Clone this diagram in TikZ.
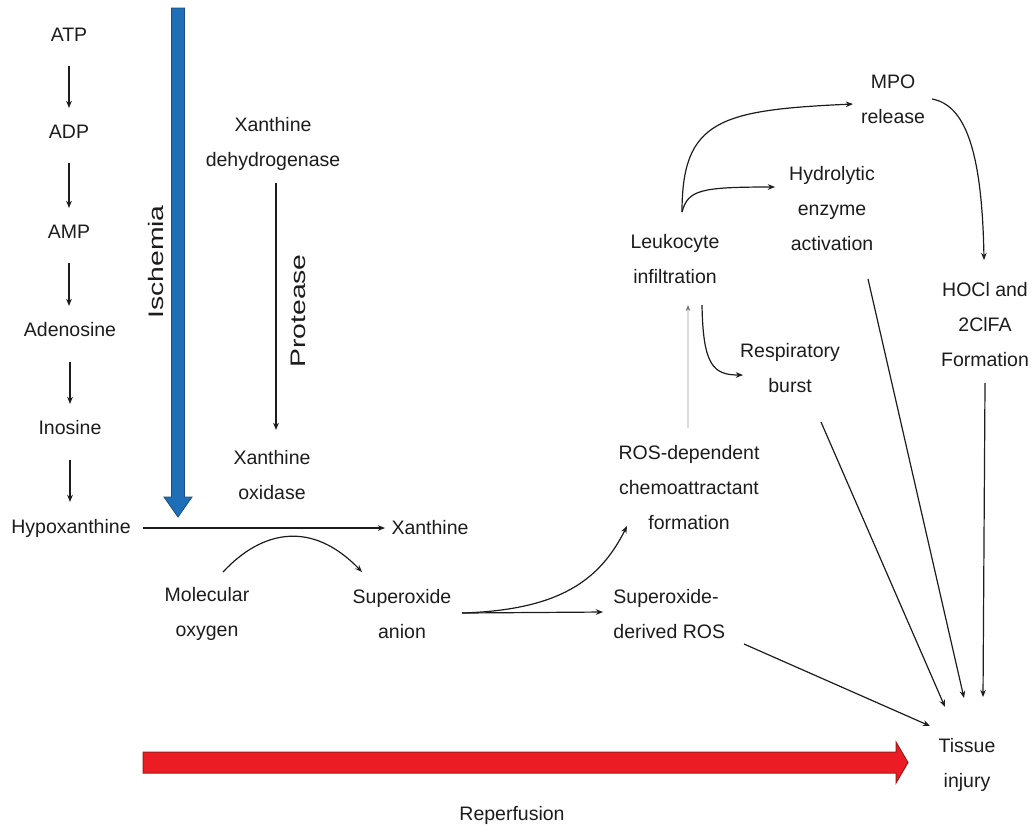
\documentclass[tikz,border=0pt]{standalone}
\usepackage{fontspec}
\setmainfont{Liberation Sans}
\usetikzlibrary{arrows.meta,calc}
\definecolor{inkc}{HTML}{1C1C1C}
\definecolor{ischfill}{HTML}{1E6FB8}
\definecolor{ischedge}{HTML}{1A4C80}
\definecolor{repfill}{HTML}{EC1C24}
\definecolor{repedge}{HTML}{A01818}
\begin{document}
\begin{tikzpicture}[x=0.5pt,y=-0.5pt,
  lbl/.style={inner sep=0pt, align=center, text=inkc,
    font=\fontsize{9.75}{17.5}\selectfont},
  sidelbl/.style={inner sep=0pt, rotate=90, text=inkc,
    font=\fontsize{10.5}{12}\selectfont},
  arr/.style={draw=inkc, line width=0.6pt,
    -{Stealth[length=3.6pt,width=2.8pt]}},
  faint/.style={draw=black!14, line width=0.6pt,
    -{Stealth[length=3pt,width=2.4pt,color=black!55]}},
]
\useasboundingbox (0,0) rectangle (1032,832);

% ischemia and reperfusion bands
\filldraw[fill=ischfill, draw=ischedge, line width=0.4pt]
  (171.5,8) -- (184.5,8) -- (184.5,497) -- (192,497) -- (178,517)
  -- (164,497) -- (171.5,497) -- cycle;
\filldraw[fill=repfill, draw=repedge, line width=0.5pt]
  (143,752) -- (896,752) -- (896,742) -- (908,762.5) -- (896,783)
  -- (896,773) -- (143,773) -- cycle;
\node[sidelbl] (isch) at (156,262) {\scalebox{1.35}[1]{Ischemia}};
\node[lbl] (reperf) at (512,815) {Reperfusion};

% purine breakdown
\node[lbl] (atp)   at (69,35)  {ATP};
\node[lbl] (adp)   at (69,132) {ADP};
\node[lbl] (amp)   at (69,232) {AMP};
\node[lbl] (adeno) at (70,330) {Adenosine};
\node[lbl] (ino)   at (70,428) {Inosine};
\node[lbl] (hypo)  at (71,528) {Hypoxanthine};
\node[lbl] (xan)   at (430,528) {Xanthine};

% enzymes and substrates
\node[lbl] (xdh) at (273,144) {Xanthine\\dehydrogenase};
\node[lbl] (xo)  at (272,475) {Xanthine\\oxidase};
\node[sidelbl] (prot) at (298,311) {\scalebox{1.35}[1]{Protease}};
\node[lbl] (mol)   at (207,614) {Molecular\\oxygen};
\node[lbl] (supan) at (402,614) {Superoxide\\anion};

% downstream events
\node[lbl, anchor=west, align=left] (supros) at (613,614) {Superoxide-\\derived ROS};
\node[lbl] (rosdep) at (689,488) {ROS-dependent\\chemoattractant\\formation};
\node[lbl] (leuk)   at (675,259) {Leukocyte\\infiltration};
\node[lbl] (hydro)  at (832,209) {Hydrolytic\\enzyme\\activation};
\node[lbl] (mpo)    at (893,99)  {MPO\\release};
\node[lbl] (resp)   at (790,368) {Respiratory\\burst};
\node[lbl] (hocl)   at (985,325) {HOCl and\\2ClFA\\Formation};
\node[lbl] (tissue) at (967,765) {Tissue\\injury};

% left column
\foreach \a/\b in {atp/adp, adp/amp, amp/adeno, adeno/ino}
  \draw[arr, shorten <=12pt, shorten >=12pt] (\a) -- (\a |- \b);
\draw[arr, shorten <=12pt, shorten >=13pt] (ino) -- (ino |- hypo);

\draw[arr] ($(hypo)+(72,0)$) -- ($(xan)+(-45,0)$);
\draw[arr] ($(xdh)+(3,39)$) -- ($(xo)+(4,-45)$);
\draw[arr] ($(mol)+(16,-42)$) .. controls +(39,-42) and +(-50,-52) .. ($(supan)+(-40,-42)$);

% superoxide branches
\draw[arr] ($(supan)+(60,-1)$) -- ($(supros.west)+(-10,-2)$);
\draw[arr] ($(supan)+(60,-1)$) .. controls +(98,-3) and +(-27,54) .. ($(rosdep)+(-62,38)$);
\draw[faint] ($(rosdep)+(-1,-60)$) -- ($(leuk)+(13,46)$);

% leukocyte branches
\draw[arr] ($(leuk)+(7,-47)$) .. controls +(0,-92) and +(-133,6) .. ($(mpo)+(-40,5)$);
\draw[arr] ($(leuk)+(7,-47)$) .. controls +(6,-22) and +(-75,0) .. ($(hydro)+(-57,-22)$);
\draw[arr] ($(leuk)+(27,46)$) .. controls +(1,60) and +(-30,0) .. ($(resp)+(-47,7)$);
\draw[arr] ($(mpo)+(39,0)$) .. controls +(33,6) and +(-2,-110) .. ($(hocl)+(-1,-65)$);

% routes to tissue injury
\draw[arr] ($(hydro)+(36,70)$) -- ($(tissue)+(-3,-67)$);
\draw[arr] ($(resp)+(31,54)$) -- ($(tissue)+(-22,-58)$);
\draw[arr] ($(hocl)+(0,58)$) -- ($(tissue)+(16,-68)$);
\draw[arr] ($(supros.west)+(131,30)$) -- ($(tissue)+(-37,-39)$);
\end{tikzpicture}
\end{document}
